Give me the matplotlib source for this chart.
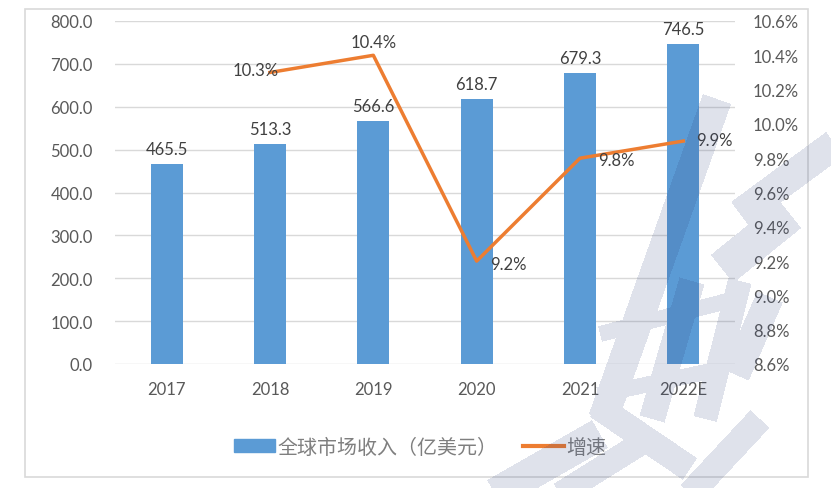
import matplotlib
matplotlib.use("Agg")
import matplotlib.pyplot as plt
import numpy as np
from matplotlib.patches import Rectangle
from matplotlib.lines import Line2D
from matplotlib.path import Path
from matplotlib.ticker import FuncFormatter

plt.rcParams['font.family'] = ['Lato', 'Noto Sans CJK SC', 'DejaVu Sans']

categories = ["2017", "2018", "2019", "2020", "2021", "2022E"]
revenue = [465.5, 513.3, 566.6, 618.7, 679.3, 746.5]
growth_years = ["2018", "2019", "2020", "2021", "2022E"]
growth = [10.3, 10.4, 9.2, 9.8, 9.9]
left_ticks = [0, 100, 200, 300, 400, 500, 600, 700, 800]
right_ticks = [8.6, 8.8, 9.0, 9.2, 9.4, 9.6, 9.8, 10.0, 10.2, 10.4, 10.6]
bar_label = "全球市场收入（亿美元）"
line_label = "增速"

BLUE = "#5B9BD5"
ORANGE = "#ED7D31"
TXT = "#595959"
GRID = "#D9D9D9"
W, H = 831, 489

fig = plt.figure(figsize=(8.31, 4.89), dpi=100)
fig.patches.append(Rectangle((25 / W, 1 - 478 / H), (808 - 25) / W, (478 - 10) / H,
                             transform=fig.transFigure, fill=False, edgecolor="#D9D9D9", lw=1.2))

ax = fig.add_axes([115 / W, 1 - 365 / H, (735 - 115) / W, (365 - 22) / H])
x = list(range(len(categories)))
ax.bar(x, revenue, width=0.31, color=BLUE, zorder=2)
ax.set_ylim(0, 800)
ax.set_xlim(-0.5, len(categories) - 0.5)
ax.set_yticks(left_ticks)
ax.yaxis.set_major_formatter(FuncFormatter(lambda v, p: f"{v:.1f}"))
ax.set_xticks(x)
ax.set_xticklabels(categories)
ax.grid(axis="y", color=GRID, lw=1, zorder=0)
ax.set_axisbelow(True)
for s in ax.spines.values():
    s.set_visible(False)
ax.tick_params(axis="y", length=0, pad=16, labelsize=12, labelcolor=TXT)
ax.tick_params(axis="x", length=0, pad=12, labelsize=12, labelcolor=TXT)

for xi, v in zip(x, revenue):
    ax.annotate(f"{v:.1f}", (xi, v), xytext=(0, 5), textcoords="offset points",
                ha="center", va="bottom", fontsize=12, color="#404040")

ax2 = ax.twinx()
gx = [categories.index(c) for c in growth_years]
ax2.plot(gx, growth, color=ORANGE, lw=2.5, zorder=3)
ax2.set_ylim(8.6, 10.6)
ax2.set_yticks(right_ticks)
ax2.yaxis.set_major_formatter(FuncFormatter(lambda v, p: f"{v:.1f}%"))
for s in ax2.spines.values():
    s.set_visible(False)
ax2.tick_params(axis="y", length=0, pad=13, labelsize=12, labelcolor=TXT)

offsets = [(6, 2, "right", "center"), (0, 4, "center", "bottom"), (10, -2, "left", "center"),
           (13, -1, "left", "center"), (9, 1, "left", "center")]
for xi, g, (dx, dy, ha, va) in zip(gx, growth, offsets):
    ax2.annotate(f"{g:.1f}%", (xi, g), xytext=(dx, dy), textcoords="offset points",
                 ha=ha, va=va, fontsize=12, color="#404040")

handles = [Rectangle((0, 0), 1, 1, color=BLUE), Line2D([0], [0], color=ORANGE, lw=3)]
fig.legend(handles, [bar_label, line_label], loc="center", bbox_to_anchor=(420 / W, 1 - 447 / H),
           ncol=2, frameon=False, fontsize=14.4, labelcolor="#7F7F7F", handlelength=2.05,
           handleheight=0.6, columnspacing=1.3, handletextpad=0.1)

# faint watermark (decorative overlay), rasterised as one union mask
strokes = [
    (717, 100, 603, 420, 30),
    (835, 145, 740, 215, 30),
    (790, 215, 722, 270, 36),
    (692, 282, 652, 420, 26),
    (740, 282, 705, 420, 24),
    (600, 335, 735, 300, 16),
    (598, 396, 720, 370, 16),
    (597, 407, 690, 470, 26),
    (495, 495, 600, 435, 32),
    (770, 298, 736, 376, 28),
    (560, 495, 640, 445, 24),
    (690, 495, 760, 420, 26),
]
yy, xx = np.mgrid[0:H, 0:W]
pts = np.column_stack([xx.ravel() + 0.5, yy.ravel() + 0.5])
mask = np.zeros(H * W, bool)
for x1, y1, x2, y2, w in strokes:
    d = np.array([x2 - x1, y2 - y1], float)
    n = np.array([-d[1], d[0]]) / np.hypot(*d) * w / 2
    poly = np.array([[x1, y1] + n, [x2, y2] + n, [x2, y2] - n, [x1, y1] - n, [x1, y1] + n])
    mask |= Path(poly).contains_points(pts)
mask = mask.reshape(H, W)
rgba = np.zeros((H, W, 4))
rgba[..., 0] = 45 / 255
rgba[..., 1] = 65 / 255
rgba[..., 2] = 125 / 255
rgba[..., 3] = mask * 0.15
wax = fig.add_axes([0, 0, 1, 1], zorder=10)
wax.imshow(rgba, extent=(0, W, H, 0), interpolation="bilinear", aspect="auto")
wax.set_xlim(0, W)
wax.set_ylim(H, 0)
wax.axis("off")

fig.savefig("out.png", dpi=100)
